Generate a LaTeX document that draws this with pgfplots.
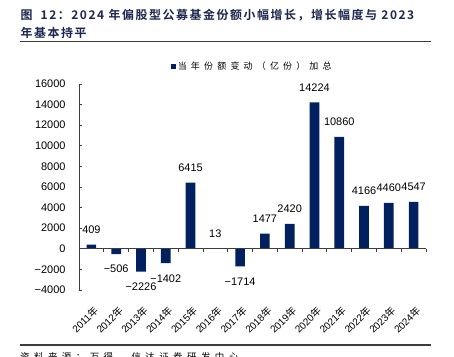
\documentclass[border=0pt]{standalone}
\usepackage{fontspec}
\setmainfont{Liberation Sans}
\newfontfamily\cjk{Noto Sans CJK SC}
\newfontfamily\cjkl[LetterSpace=47]{Noto Sans CJK SC}
\newfontfamily\cjkt[LetterSpace=13]{Noto Sans CJK SC Bold}
\usepackage{pgfplots}
\pgfplotsset{compat=1.18}
\definecolor{barcol}{RGB}{0,32,96}
\definecolor{titcol}{RGB}{28,38,78}
\definecolor{axcol}{RGB}{60,60,60}
\pgfplotstableread{
x y lab
0 409 409
1 -506 −506
2 -2226 −2226
3 -1402 −1402
4 6415 6415
5 13 13
6 -1714 −1714
7 1477 1477
8 2420 2420
9 14224 14224
10 10860 10860
11 4166 4166
12 4460 4460
13 4547 4547
}\datatab
\begin{document}
\begin{tikzpicture}
\path[use as bounding box, clip] (0,0) rectangle (454bp,-357bp);
\node[anchor=west, text=titcol, inner sep=0, font=\cjkt\fontsize{12}{12}\selectfont] at (20.5bp,-15bp) {图\hspace{8bp}12：2024 年偏股型公募基金份额小幅增长，增长幅度与 2023};
\node[anchor=west, text=titcol, inner sep=0, font=\cjkt\fontsize{12}{12}\selectfont] at (20.5bp,-33bp) {年基本持平};
\draw[line width=1.2bp, axcol] (20bp,-41.5bp) -- (431bp,-41.5bp);
\draw[line width=1.2bp, axcol] (20bp,-345bp) -- (431bp,-345bp);
\node[anchor=north west, inner sep=0, font=\cjkl\fontsize{9.5}{9.5}\selectfont] at (20bp,-352bp) {资料来源：万得，信达证券研发中心};
\begin{axis}[
  at={(79bp,-290bp)}, anchor=south west,
  scale only axis, width=347bp, height=206bp,
  clip=false,
  scaled y ticks=false,
  ymin=-4000, ymax=16000,
  ytick={-4000,-2000,0,2000,4000,6000,8000,10000,12000,14000,16000},
  yticklabels={−4000,−2000,0,2000,4000,6000,8000,10000,12000,14000,16000},
  xmin=-0.5, xmax=13.5,
  axis y line*=left, axis x line*=bottom,
  x axis line style={draw=none},
  y axis line style={axcol, line width=0.8bp},
  xtick={0,...,13},
  xticklabels={2011{\cjk 年},2012{\cjk 年},2013{\cjk 年},2014{\cjk 年},2015{\cjk 年},2016{\cjk 年},2017{\cjk 年},2018{\cjk 年},2019{\cjk 年},2020{\cjk 年},2021{\cjk 年},2022{\cjk 年},2023{\cjk 年},2024{\cjk 年}},
  major x tick style={draw=none},
  ytick style={axcol, line width=0.8bp},
  tick align=inside, major tick length=3bp,
  yticklabel style={font=\fontsize{11}{11}\selectfont, xshift=-10bp},
  xticklabel style={font=\fontsize{10}{10}\selectfont, xshift=1.5bp, yshift=-12bp, rotate=45, anchor=north east, inner sep=0},
  ybar, bar width=9.7bp,
  legend style={draw=none, fill=none, at={(0.264,1.087)}, anchor=west, inner sep=0,
    font=\cjkl\fontsize{9}{9}\selectfont},
  legend image code/.code={\fill[barcol] (0bp,-2.5bp) rectangle (5bp,2.5bp);},
]
\addplot[fill=barcol, draw=none,
  point meta=explicit symbolic,
  visualization depends on={\thisrow{y} \as \yv},
  nodes near coords,
  every node near coord/.append style={font=\fontsize{11}{11}\selectfont, inner xsep=0, inner ysep=11bp, text=black},
  every node near coord/.append code={\ifdim\yv pt<0pt \pgfkeysalso{anchor=north}\else\pgfkeysalso{anchor=south}\fi},
] table[x=x, y=y, meta=lab] {\datatab};
\addlegendentry{当年份额变动（亿份）\hspace{4bp}加总}
\draw[axcol, line width=0.8bp] (axis cs:-0.5,0) -- (axis cs:13.5,0);
\pgfplotsinvokeforeach{0.5,1.5,2.5,3.5,4.5,5.5,6.5,7.5,8.5,9.5,10.5,11.5,12.5,13.5}{
  \draw[axcol, line width=0.8bp] (axis cs:#1,0) -- ++(0pt,-3bp);
}
\end{axis}
\end{tikzpicture}
\end{document}
